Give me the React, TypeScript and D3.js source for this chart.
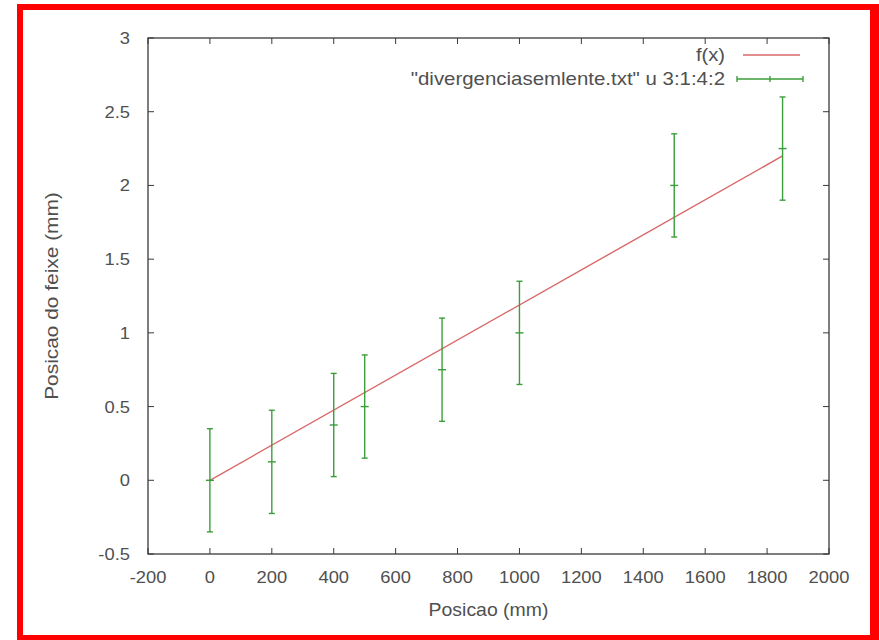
import React from "react";
import * as d3 from "d3";

const posX = [0, 200, 400, 500, 750, 1000, 1500, 1850];
const posY = [0, 0.125, 0.375, 0.5, 0.75, 1.0, 2.0, 2.25];
const errY = [0.35, 0.35, 0.35, 0.35, 0.35, 0.35, 0.35, 0.35];
const fitX = [0, 1850];
const fitY = [0, 2.2];
const xTicks = [-200, 0, 200, 400, 600, 800, 1000, 1200, 1400, 1600, 1800, 2000];
const yTicks = [-0.5, 0, 0.5, 1, 1.5, 2, 2.5, 3];
const xTitle = "Posicao (mm)";
const yTitle = "Posicao do feixe (mm)";
const legendFit = "f(x)";
const legendData = '"divergenciasemlente.txt" u 3:1:4:2';

const W = 879, H = 640;
const L = 148, R = 829, T = 38, B = 554;
const FONT = "'Liberation Sans', Arial, sans-serif";
const TXT = "#505050";
const FRAME = "#3a3a3a";
const RED = "#d86868";
const GREEN = "#3a9e3a";

function Txt({ x, y, anchor = "middle", size = 17, sx = 1.08, rotate = 0, children }: any) {
  return (
    <text
      transform={`translate(${x},${y}) rotate(${rotate}) scale(${sx},1)`}
      textAnchor={anchor}
      fontFamily={FONT}
      fontSize={size}
      fill={TXT}
    >
      {children}
    </text>
  );
}

export default function App() {
  const x = d3.scaleLinear().domain([-200, 2000]).range([L, R]);
  const y = d3.scaleLinear().domain([-0.5, 3]).range([B, T]);
  const line = d3.line<number>().x((_, i) => x(fitX[i])).y((d) => y(d));
  const tk = 6;
  const cap = 3;

  return (
    <svg width={W} height={H} style={{ position: "absolute", left: 0, top: 0, background: "#fff" }}>
      <rect x={0} y={0} width={W} height={H} fill="#fff" />
      {/* red border */}
      <rect x={17} y={4} width={6} height={636} fill="#ff0000" />
      <rect x={17} y={4} width={862} height={6} fill="#ff0000" />
      <rect x={870} y={4} width={9} height={636} fill="#ff0000" />
      <rect x={17} y={635} width={862} height={5} fill="#ff0000" />

      {/* ticks */}
      {xTicks.map((t) => (
        <g key={"xt" + t}>
          <line x1={x(t)} x2={x(t)} y1={B} y2={B - tk} stroke={FRAME} strokeWidth={1} />
          <line x1={x(t)} x2={x(t)} y1={T} y2={T + tk} stroke={FRAME} strokeWidth={1} />
          <Txt x={x(t)} y={583}>{String(t)}</Txt>
        </g>
      ))}
      {yTicks.map((t) => (
        <g key={"yt" + t}>
          <line x1={L} x2={L + tk} y1={y(t)} y2={y(t)} stroke={FRAME} strokeWidth={1} />
          <line x1={R} x2={R - tk} y1={y(t)} y2={y(t)} stroke={FRAME} strokeWidth={1} />
          <Txt x={130} y={y(t) + 6} anchor="end">{String(t)}</Txt>
        </g>
      ))}

      {/* frame */}
      <rect x={L} y={T} width={R - L} height={B - T} fill="none" stroke={FRAME} strokeWidth={1.3} />

      {/* titles */}
      <Txt x={(L + R) / 2} y={616} size={18}>{xTitle}</Txt>
      <Txt x={58} y={(T + B) / 2} size={18} sx={1.16} rotate={-90}>{yTitle}</Txt>

      {/* fit line */}
      <path d={line(fitY) || ""} fill="none" stroke={RED} strokeWidth={1.4} />

      {/* error bars */}
      {posX.map((px, i) => {
        const cx = x(px);
        const y1 = y(posY[i] + errY[i]);
        const y0 = y(posY[i] - errY[i]);
        const cy = y(posY[i]);
        return (
          <g key={"e" + i} stroke={GREEN} strokeWidth={1.4}>
            <line x1={cx} x2={cx} y1={y1} y2={y0} />
            <line x1={cx - cap} x2={cx + cap} y1={y1} y2={y1} />
            <line x1={cx - cap} x2={cx + cap} y1={y0} y2={y0} />
            <line x1={cx - 4} x2={cx + 4} y1={cy} y2={cy} />
          </g>
        );
      })}

      {/* legend */}
      <Txt x={725} y={61} anchor="end" size={18} sx={1.12}>{legendFit}</Txt>
      <line x1={743} x2={800} y1={55} y2={55} stroke={RED} strokeWidth={1.4} />
      <Txt x={725} y={85} anchor="end" size={18} sx={1.135}>{legendData}</Txt>
      <g stroke={GREEN} strokeWidth={1.4}>
        <line x1={737} x2={803} y1={79} y2={79} />
        <line x1={737} x2={737} y1={76} y2={82} />
        <line x1={803} x2={803} y1={76} y2={82} />
        <line x1={770} x2={770} y1={76} y2={82} />
      </g>
    </svg>
  );
}
